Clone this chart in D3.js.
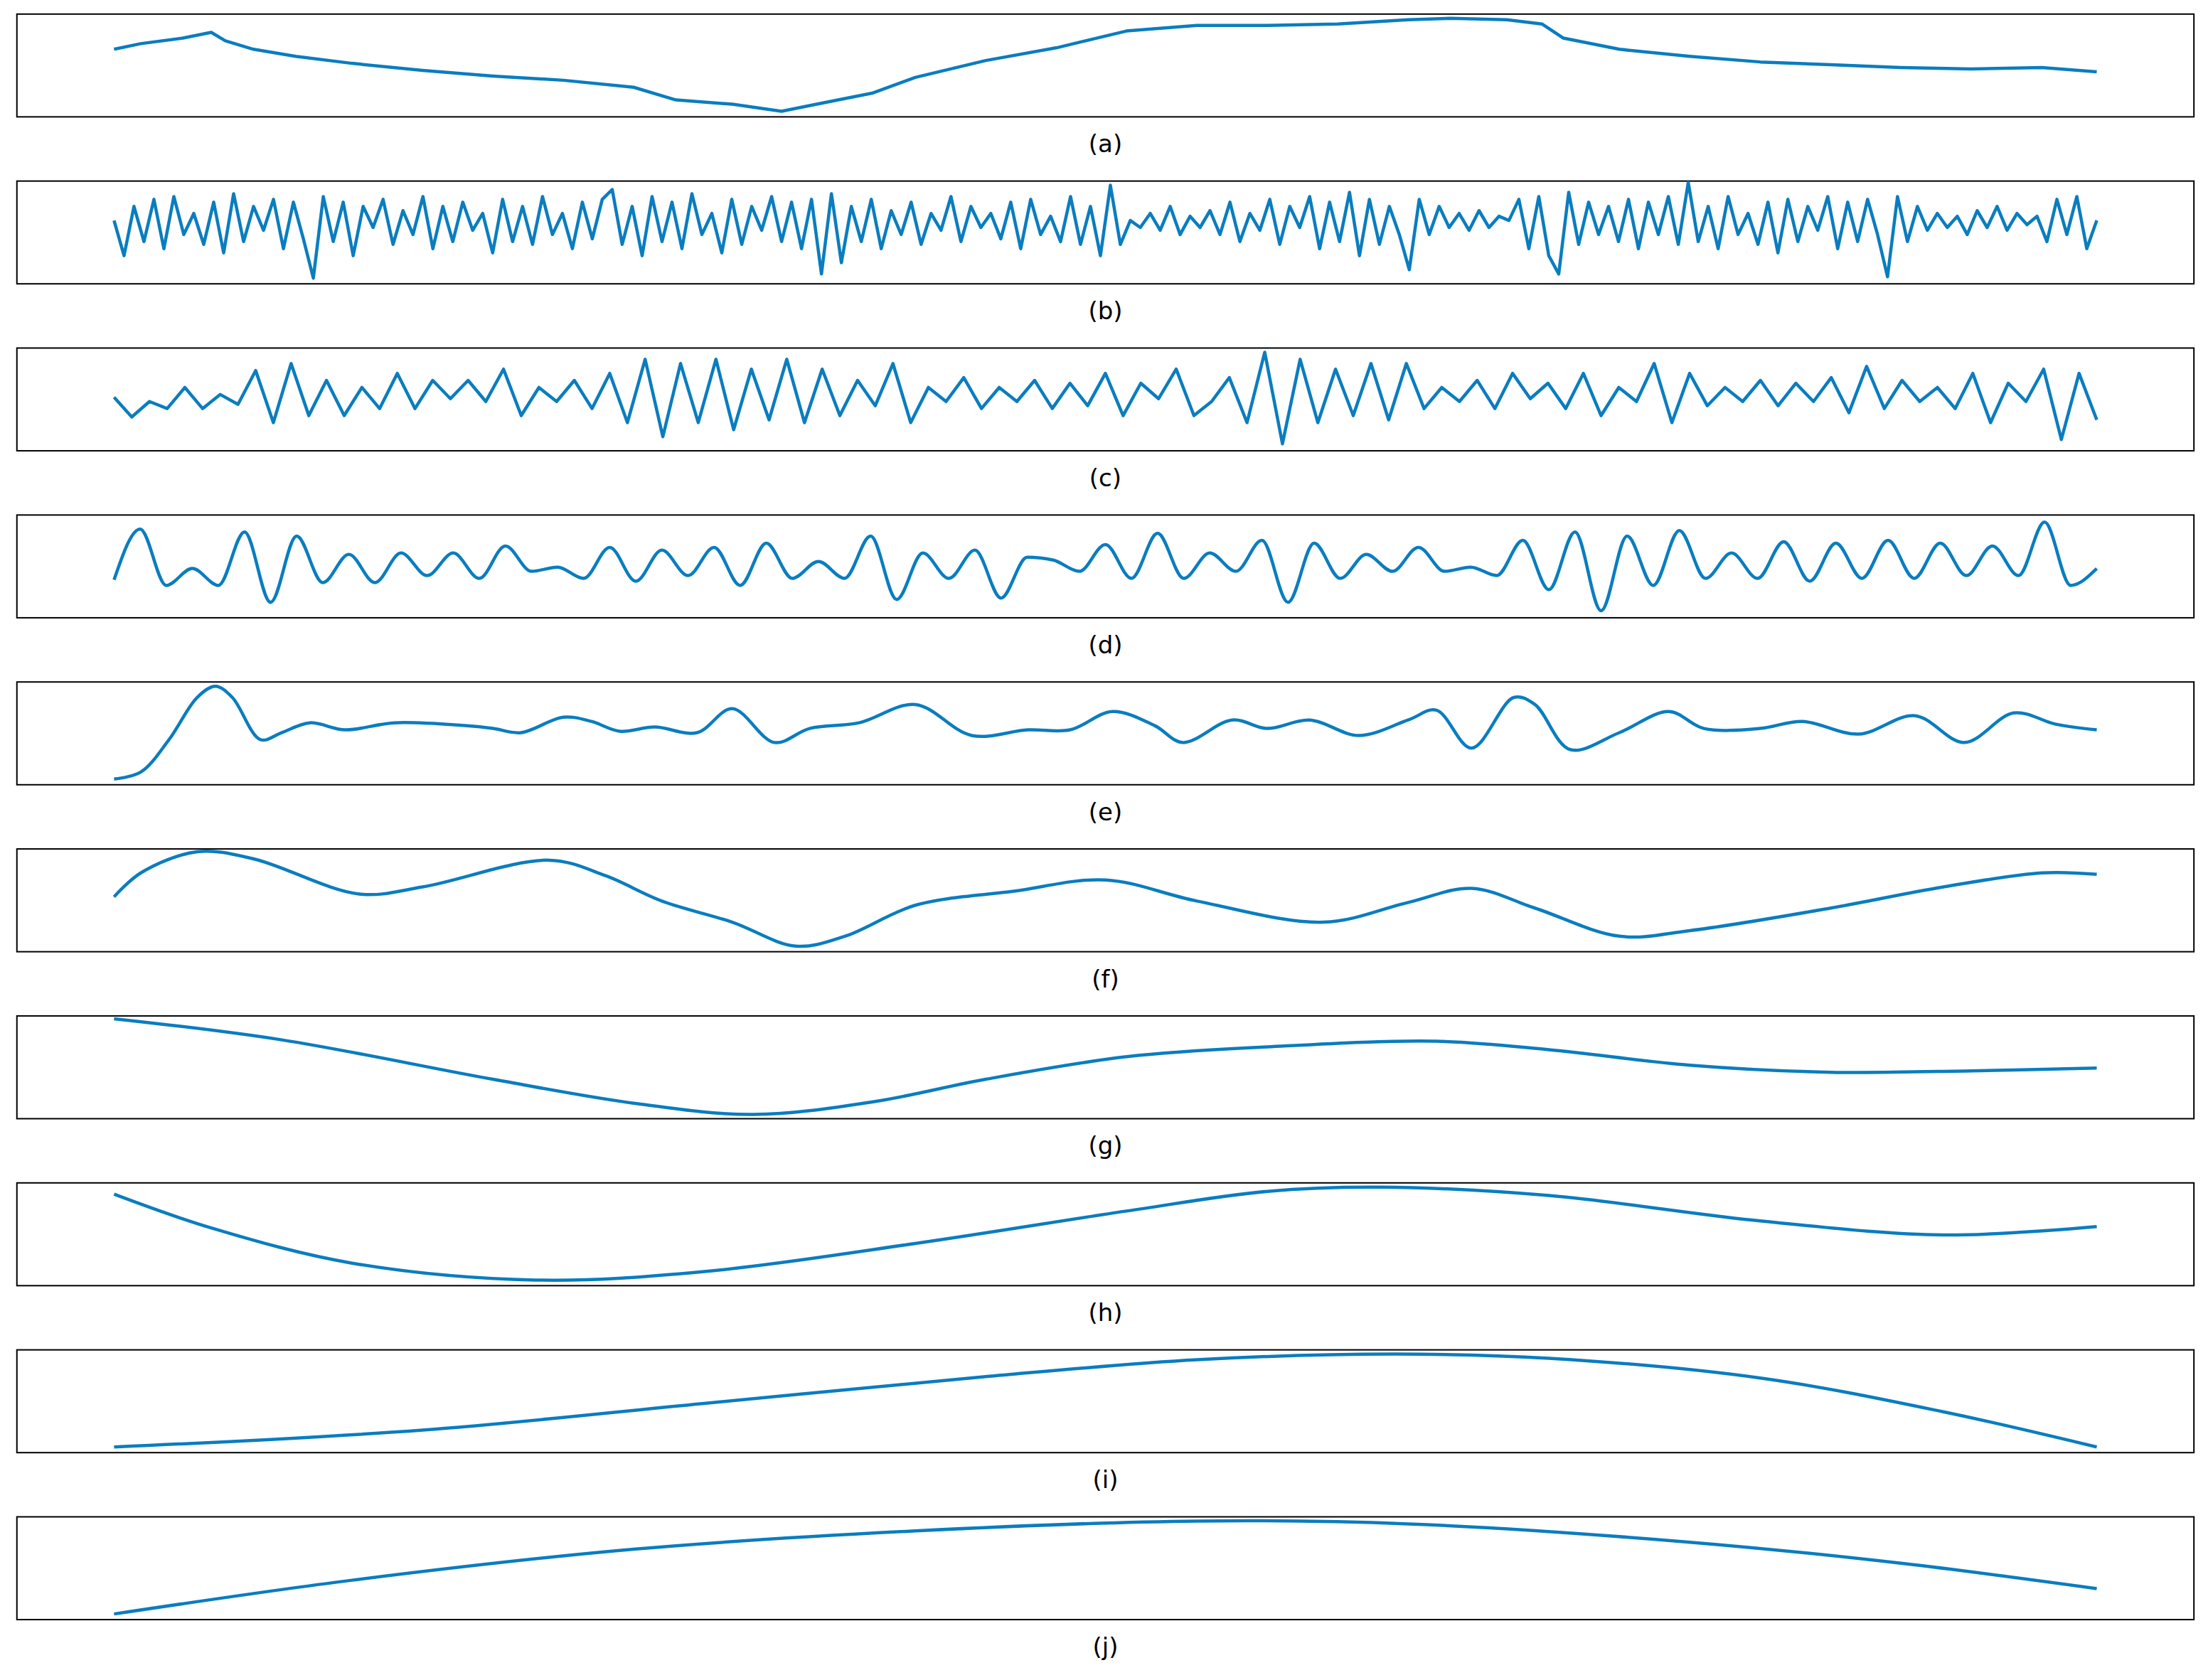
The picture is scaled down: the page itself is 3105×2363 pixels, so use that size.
<!DOCTYPE html>
<html>
<head>
<meta charset="utf-8">
<script src="https://cdn.jsdelivr.net/npm/d3@7"></script>
<style>
  body { margin: 0; background: #fff; }
</style>
</head>
<body>
<svg id="vis-container"></svg>
<script>
const WIDTH = 3105
const HEIGHT = 2363
const S = 3105 / 1568
const CONTAINER = d3.select("#vis-container")
const LINE_COLOR = "#0a7dbf"

const labels = ["(a)", "(b)", "(c)", "(d)", "(e)", "(f)", "(g)", "(h)", "(i)", "(j)"]

// [position, value] pairs, position in sample units 81..1489, value 0..73
const seriesA = [[81,48],[100,52],[130,56],[150,60],[160,54],[180,48],[210,43],[250,38],[300,33],[350,29],[400,26],[450,21],[480,12],[520,9],[555,4],[580,9],[620,17],[650,28],[700,40],[750,49],[800,61],[850,65],[900,65],[950,66],[1000,69],[1030,70],[1070,69],[1095,66],[1110,56],[1150,48],[1200,43],[1250,39],[1300,37],[1350,35],[1400,34],[1450,35],[1489,32]]

const seriesB = [45,20,55,30,60,25,62,35,50,28, 58,22,64,30,55,38,60,25,58,32,
  4,62,30,58,20,55,40,60,28,52, 35,62,25,55,30,58,38,50,22,60,
  30,55,28,62,35,50,25,58,32,60, 67,28,55,20,62,30,58,25,64,35,
  50,22,60,28,55,38,62,30,58,25, 60,7,64,15,55,30,60,25,52,35,
  58,28,50,38,62,30,55,40,50,32, 58,25,60,35,48,30,62,28,55,20,
  70,28,45,40,50,38,55,35,48,40, 52,35,58,30,50,38,60,28,55,40,
  62,25,58,30,65,20,60,28,55,35, 10,60,35,55,40,50,38,52,40,48,
  45,60,25,62,20,7,65,28,58,35, 55,30,60,25,58,35,62,28,72,30,
  55,25,62,35,50,28,58,22,60,30, 55,38,62,25,58,30,60,35,5,62,
  30,55,38,50,40,48,35,52,40,55, 38,50,42,48,30,60,35,62,25,45]

const seriesC = [38,24,35,30,45,30,40,33,57,20,62,25,50,25,45,30,55,30,50,37,50,35,58,25,45,35,50,30,55,20,
  65,10,62,20,65,15,58,22,65,20,58,25,50,32,62,20,45,35,52,30,45,35,50,30,48,32,55,25,48,37,
  58,25,35,52,20,70,5,65,20,58,25,62,22,62,30,45,35,50,30,55,37,48,30,55,25,45,35,62,20,55,
  32,45,35,50,32,48,35,52,27,60,30,50,35,45,30,55,20,48,35,58,8,55,22]

const seriesD = [27,63,23,35,23,61,11,58,25,45,25,46,30,46,28,51,33,36,28,50,26,48,30,50,23,53,28,40,28,58,
  13,46,28,48,14,43,41,33,52,28,60,28,46,33,55,11,53,28,45,33,50,33,36,30,55,20,61,5,58,23,
  62,28,46,28,54,26,53,28,55,28,53,30,51,30,68,23,35]

const seriesE = [[81,4],[100,9],[120,32],[140,62],[153,70],[165,62],[185,32],[200,37],[220,44],[245,39],[280,44],[330,42],[350,40],[370,37],[400,48],[420,45],[440,38],[465,41],[495,37],[520,54],[550,30],[575,40],[610,44],[650,57],[690,35],[730,39],[760,39],[790,52],[820,42],[840,30],[875,46],[900,40],[930,46],[965,35],[1000,46],[1020,53],[1045,26],[1075,62],[1090,57],[1115,25],[1150,37],[1185,52],[1210,40],[1250,40],[1280,45],[1320,36],[1360,49],[1395,30],[1430,51],[1460,43],[1489,39]]

const seriesF = [[81,39],[100,56],[140,71],[180,66],[255,41],[300,46],[390,65],[430,54],[470,36],[520,21],[565,4],[600,11],[650,33],[720,43],[785,51],[850,36],[940,21],[1000,35],[1045,45],[1090,31],[1150,11],[1200,15],[1300,31],[1380,46],[1450,56],[1489,55]]

const seriesG = [[81,71],[200,56],[350,28],[450,11],[535,3],[620,12],[700,28],[800,44],[900,51],[1020,55],[1100,49],[1200,38],[1300,33],[1400,34],[1489,36]]
const seriesH = [[81,65],[150,41],[250,16],[380,4],[500,10],[650,30],[800,53],[900,67],[980,70],[1100,64],[1250,46],[1380,36],[1489,42]]
const seriesI = [[81,4],[300,16],[500,35],[700,54],[850,66],[990,70],[1100,67],[1250,53],[1380,29],[1489,4]]
const seriesJ = [[81,4],[250,28],[450,50],[650,63],[850,70],[1000,68],[1200,55],[1350,40],[1489,22]]

function evenly(values) {
    const idx = d3.scaleLinear().domain([0, values.length - 1]).range([81, 1489])
    return values.map((v, i) => [idx(i), v])
}

const smooth = d3.curveCatmullRom.alpha(0.5)

const panels = [
    { data: seriesA, curve: d3.curveLinear },
    { data: evenly(seriesB), curve: d3.curveLinear },
    { data: evenly(seriesC), curve: d3.curveLinear },
    { data: evenly(seriesD), curve: d3.curveMonotoneX },
    { data: seriesE, curve: smooth },
    { data: seriesF, curve: smooth },
    { data: seriesG, curve: smooth },
    { data: seriesH, curve: smooth },
    { data: seriesI, curve: smooth },
    { data: seriesJ, curve: smooth }
]

CONTAINER.attr('width', WIDTH).attr('height', HEIGHT)
CONTAINER.append('rect').attr('width', WIDTH).attr('height', HEIGHT).attr('fill', '#fff')

const PANEL_LEFT = 12 * S
const PANEL_RIGHT = 1558 * S
const PANEL_H = 73 * S
const PANEL_STEP = 118.6 * S
const PANEL_TOP0 = 10 * S

const x = d3.scaleLinear().domain([81, 1489]).range([81 * S, 1489 * S])

panels.forEach((p, i) => {
    const top = PANEL_TOP0 + i * PANEL_STEP
    const y = d3.scaleLinear().domain([0, 73]).range([top + PANEL_H, top])
    const g = CONTAINER.append('g').attr('class', 'panel')

    g.append('rect')
        .attr('x', PANEL_LEFT)
        .attr('y', top)
        .attr('width', PANEL_RIGHT - PANEL_LEFT)
        .attr('height', PANEL_H)
        .attr('fill', 'none')
        .attr('stroke', '#000')
        .attr('stroke-width', 2)

    g.append('path')
        .datum(p.data)
        .attr('d', d3.line().x(d => x(d[0])).y(d => y(d[1])).curve(p.curve))
        .attr('fill', 'none')
        .attr('stroke', LINE_COLOR)
        .attr('stroke-width', 4.5)
        .attr('stroke-linejoin', 'round')

    g.append('text')
        .attr('x', (PANEL_LEFT + PANEL_RIGHT) / 2)
        .attr('y', top + PANEL_H + 50)
        .attr('text-anchor', 'middle')
        .attr('font-family', 'DejaVu Sans')
        .attr('font-size', 34)
        .text(labels[i])
})
</script>
</body>
</html>
